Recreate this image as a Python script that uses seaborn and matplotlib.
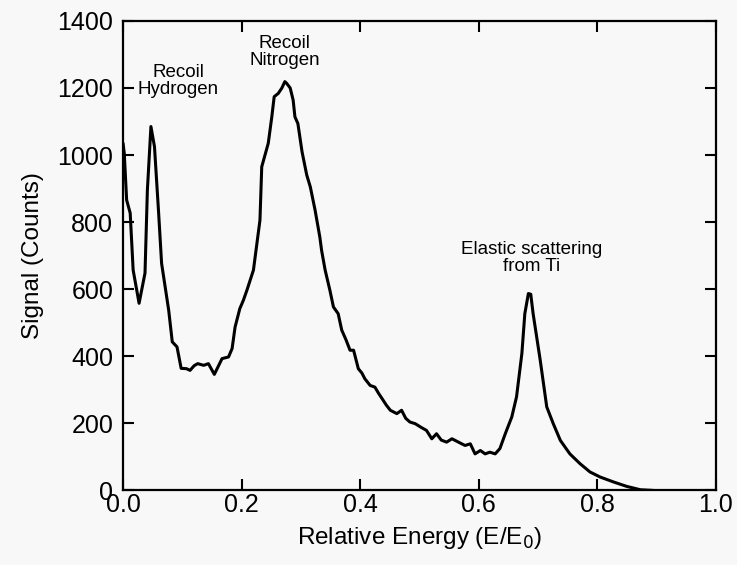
import matplotlib
matplotlib.use("Agg")
import matplotlib.pyplot as plt
import seaborn as sns
import pandas as pd

energy = [0.000, 0.002, 0.006, 0.012, 0.017, 0.027, 0.037, 0.041, 0.047, 0.053,
          0.060, 0.065, 0.077, 0.083, 0.091, 0.098, 0.107, 0.113, 0.120, 0.126,
          0.136, 0.144, 0.149, 0.154, 0.167, 0.178, 0.184, 0.189, 0.197, 0.203,
          0.209, 0.220, 0.231, 0.234, 0.245, 0.251, 0.255, 0.262, 0.268, 0.273,
          0.276, 0.282, 0.287, 0.290, 0.295, 0.302, 0.310, 0.316, 0.324, 0.332,
          0.335, 0.341, 0.349, 0.355, 0.363, 0.369, 0.376, 0.383, 0.389, 0.397,
          0.403, 0.408, 0.417, 0.425, 0.431, 0.437, 0.444, 0.451, 0.462, 0.470,
          0.477, 0.484, 0.493, 0.503, 0.512, 0.521, 0.529, 0.537, 0.546, 0.555,
          0.566, 0.577, 0.586, 0.594, 0.603, 0.611, 0.619, 0.628, 0.636, 0.645,
          0.656, 0.664, 0.673, 0.678, 0.684, 0.688, 0.692, 0.704, 0.715, 0.726,
          0.738, 0.754, 0.771, 0.788, 0.805, 0.828, 0.850, 0.873, 0.895]
counts = [1035, 1005, 866, 827, 657, 558, 648, 895, 1085, 1025,
          827, 677, 537, 443, 428, 364, 363, 358, 372, 378,
          373, 378, 362, 346, 393, 398, 423, 487, 542, 567,
          597, 657, 806, 965, 1035, 1114, 1174, 1184, 1200, 1219,
          1214, 1200, 1164, 1114, 1094, 1010, 940, 905, 836, 756,
          716, 657, 597, 547, 527, 478, 450, 418, 418, 363,
          350, 333, 313, 308, 290, 274, 255, 239, 229, 239,
          215, 204, 199, 188, 179, 154, 169, 150, 144, 154,
          144, 134, 139, 109, 119, 109, 114, 109, 125, 169,
          219, 279, 408, 527, 587, 585, 527, 388, 249, 199,
          149, 109, 80, 55, 40, 25, 12, 2, 0]

x_ticks = [0.0, 0.2, 0.4, 0.6, 0.8, 1.0]
y_ticks = [0, 200, 400, 600, 800, 1000, 1200, 1400]
annotations = ["Recoil\nHydrogen", "Recoil\nNitrogen", "Elastic scattering\nfrom Ti"]
annot_x = [0.093, 0.273, 0.690]
annot_y = [1221, 1307, 692]

df = pd.DataFrame({"energy": energy, "counts": counts})

sns.set_style("ticks")
plt.rcParams["font.family"] = ["Liberation Sans", "DejaVu Sans"]
plt.rcParams["text.color"] = "black"
plt.rcParams["axes.labelcolor"] = "black"

fig = plt.figure(figsize=(7.37, 5.65), dpi=100, facecolor="#f8f8f8")
ax = fig.add_axes([0.167, 0.132, 0.804, 0.831])
ax.set_facecolor("#f8f8f8")

sns.lineplot(data=df, x="energy", y="counts", ax=ax, color="black", linewidth=2.2)

ax.set_xlim(0, 1.0)
ax.set_ylim(0, 1400)
ax.set_xticks(x_ticks)
ax.set_xticklabels([f"{v:.1f}" for v in x_ticks])
ax.set_yticks(y_ticks)
ax.set_yticklabels([str(v) for v in y_ticks])

ax.tick_params(axis="both", direction="in", length=8, width=1.5, top=True, right=True,
               labelsize=18, colors="black")
ax.tick_params(axis="x", pad=1.5)
ax.tick_params(axis="y", pad=7)
for s in ax.spines.values():
    s.set_linewidth(1.6)
    s.set_color("black")

ax.set_xlabel("Relative Energy (E/E$_0$)", fontsize=17.5, labelpad=6, color="black")
ax.set_ylabel("Signal (Counts)", fontsize=17.5, labelpad=10, color="black")

for t, xx, yy in zip(annotations, annot_x, annot_y):
    ax.text(xx, yy, t, ha="center", va="center", fontsize=13.5, linespacing=1.0,
            color="black")

fig.savefig("out.png", dpi=100, facecolor=fig.get_facecolor())
